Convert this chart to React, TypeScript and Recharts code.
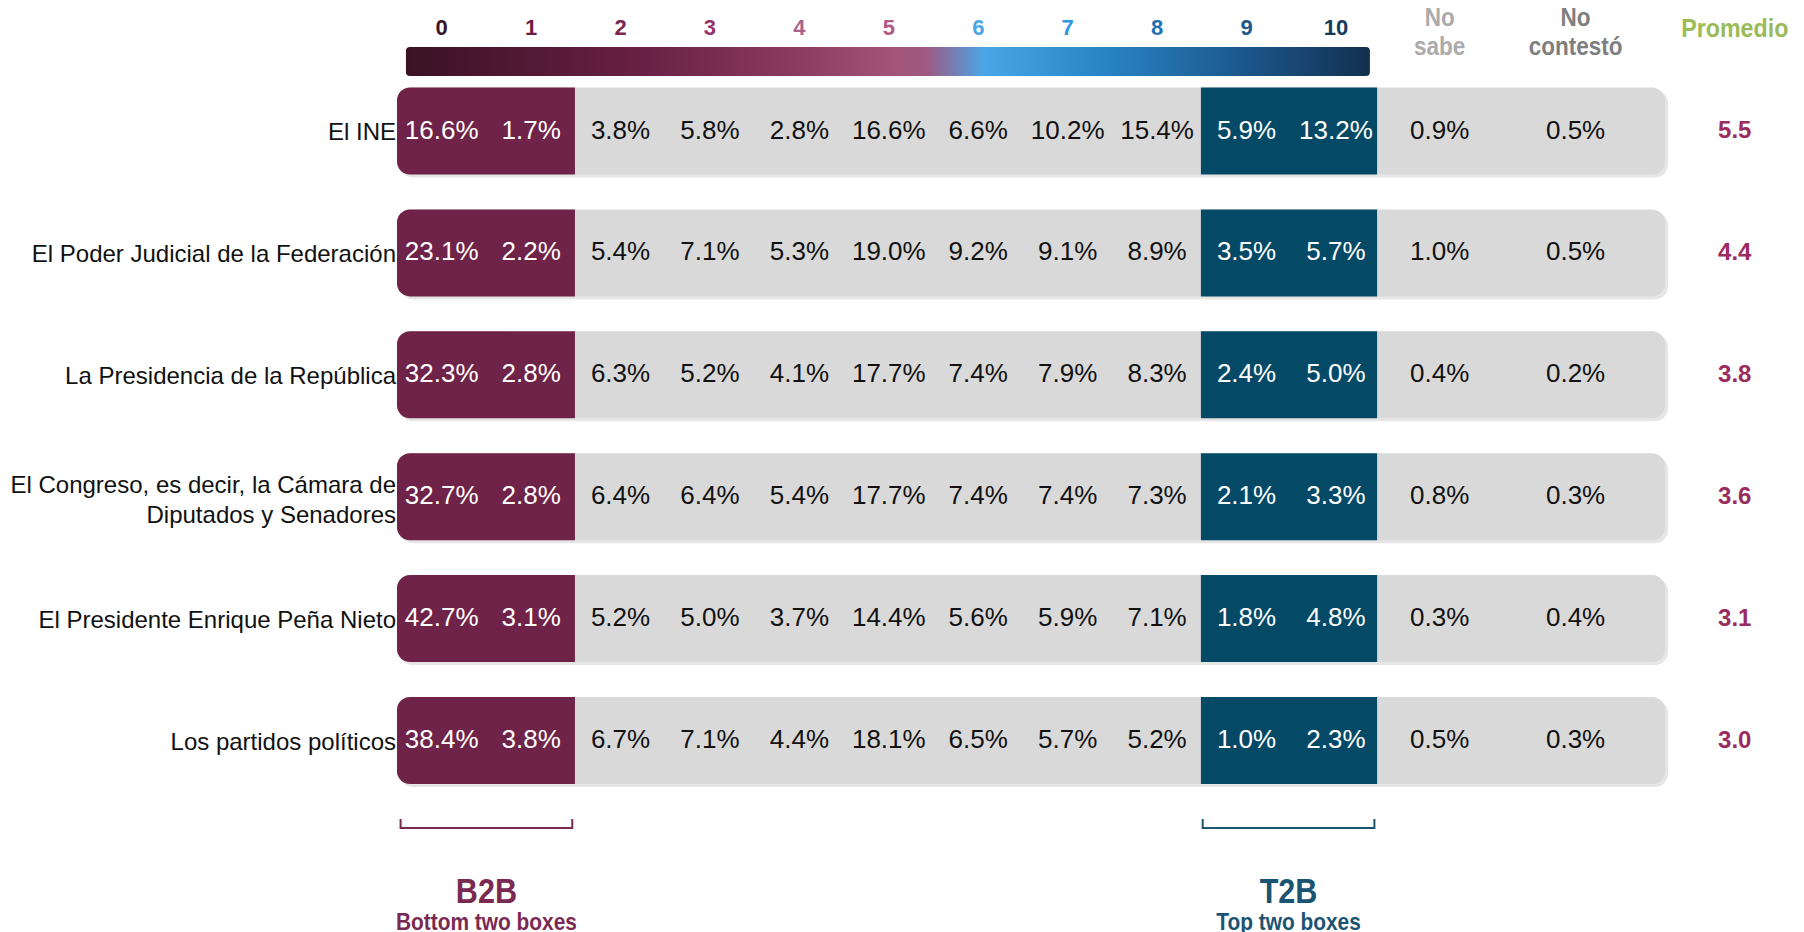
import React from 'react';
import { BarChart, Bar, XAxis, YAxis, LabelList } from 'recharts';

// rows (institutions)
const rows = [
  'El INE',
  'El Poder Judicial de la Federación',
  'La Presidencia de la República',
  'El Congreso, es decir, la Cámara de\nDiputados y Senadores',
  'El Presidente Enrique Peña Nieto',
  'Los partidos políticos',
];

// answer columns
const columns = ['0', '1', '2', '3', '4', '5', '6', '7', '8', '9', '10', 'No sabe', 'No contestó'];

// % per column, one array per row
const ine = [16.6, 1.7, 3.8, 5.8, 2.8, 16.6, 6.6, 10.2, 15.4, 5.9, 13.2, 0.9, 0.5];
const poderJudicial = [23.1, 2.2, 5.4, 7.1, 5.3, 19.0, 9.2, 9.1, 8.9, 3.5, 5.7, 1.0, 0.5];
const presidencia = [32.3, 2.8, 6.3, 5.2, 4.1, 17.7, 7.4, 7.9, 8.3, 2.4, 5.0, 0.4, 0.2];
const congreso = [32.7, 2.8, 6.4, 6.4, 5.4, 17.7, 7.4, 7.4, 7.3, 2.1, 3.3, 0.8, 0.3];
const penaNieto = [42.7, 3.1, 5.2, 5.0, 3.7, 14.4, 5.6, 5.9, 7.1, 1.8, 4.8, 0.3, 0.4];
const partidos = [38.4, 3.8, 6.7, 7.1, 4.4, 18.1, 6.5, 5.7, 5.2, 1.0, 2.3, 0.5, 0.3];

const promedio = [5.5, 4.4, 3.8, 3.6, 3.1, 3.0];

const groups = [
  { code: 'B2B', desc: 'Bottom two boxes' },
  { code: 'T2B', desc: 'Top two boxes' },
];

const valuesByRow = [ine, poderJudicial, presidencia, congreso, penaNieto, partidos];
const data = rows.map((name, r) => ({ name, vals: valuesByRow[r], avg: promedio[r] }));

// layout
const W = 1788;
const H = 924;
const Y_W = 389;
const TOP_H = 62.5;
const BAND = 121.9;
const PLOT_BOTTOM = TOP_H + BAND * rows.length;
const BOTTOM_H = H - PLOT_BOTTOM;
const PLOT_W = W - Y_W - 4;
const X_MIN = -0.5;
const X_MAX = 15.1;
const UNIT = PLOT_W / (X_MAX - X_MIN);
const xPx = (v: number) => Y_W + ((v - X_MIN) / (X_MAX - X_MIN)) * PLOT_W;

const colPos = [0, 1, 2, 3, 4, 5, 6, 7, 8, 9, 10, 11.16, 12.68];
const avgPos = 14.46;
const greyRange = [-0.5, 13.68];
const b2bRange = [-0.5, 1.49];
const t2bRange = [8.49, 10.46];
const groupPos = [0.5, 9.47];

const FONT = "'Liberation Sans', Arial, Helvetica, sans-serif";
const B2B_COLOR = '#6f2348';
const T2B_COLOR = '#044a67';
const headerColors = [
  '#3d1427', '#6a1e44', '#7d2551', '#94346a', '#a9628e', '#b05b88',
  '#4ba6e8', '#2e96de', '#1e72b4', '#1c568a', '#153a5c', '#ababab', '#7f7f7f',
];
const groupColors = ['#7a2a52', '#1b5472'];

const GreyShape = (p: any) => (
  <g>
    <rect x={p.x + 3} y={p.y + 3} width={p.width} height={p.height} rx={13} fill="#e6e6e6" />
    <rect x={p.x} y={p.y} width={p.width} height={p.height} rx={13} fill="#d9d9d9" />
  </g>
);

const RowTick = ({ x, y, payload }: any) => {
  const lines = String(payload.value).split('\n');
  const offs = lines.length === 1 ? [0] : [-13, 17];
  return (
    <text textAnchor="end" fontSize={24} fontFamily={FONT} fill="#111">
      {lines.map((l, i) => (
        <tspan key={i} x={x - 1} y={y + offs[i] + 8.6}>
          {l}
        </tspan>
      ))}
    </text>
  );
};

// condensed bold text, centred on cx
const Narrow = ({ cx, base, size, sx, fill, children }: any) => (
  <text
    transform={`translate(${cx},${base}) scale(${sx},1)`}
    textAnchor="middle"
    fontSize={size}
    fontWeight="bold"
    fontFamily={FONT}
    fill={fill}
  >
    {children}
  </text>
);

const HeaderTick = ({ x, y, index }: any) => {
  const top = y - TOP_H;
  if (index === columns.length) {
    return <Narrow cx={x} base={top + 29} size={25} sx={0.93} fill="#9bbb59">Promedio</Narrow>;
  }
  const label = columns[index];
  const parts = label.split(' ');
  if (parts.length > 1) {
    return (
      <g>
        <Narrow cx={x} base={top + 18} size={25} sx={0.9} fill={headerColors[index]}>{parts[0]}</Narrow>
        <Narrow cx={x} base={top + 47} size={25} sx={0.9} fill={headerColors[index]}>{parts.slice(1).join(' ')}</Narrow>
      </g>
    );
  }
  return (
    <text x={x} y={top + 27} textAnchor="middle" fontSize={22} fontWeight="bold" fontFamily={FONT} fill={headerColors[index]}>
      {label}
    </text>
  );
};

const GroupTick = ({ x, y, index }: any) => {
  const g = groups[index];
  const c = groupColors[index];
  const half = UNIT * 0.96;
  return (
    <g>
      <path d={`M${x - half},${y + 17} V${y + 26} H${x + half} V${y + 26 - 9}`} stroke={c} strokeWidth={2} fill="none" />
      <Narrow cx={x} base={y + 101} size={36} sx={0.85} fill={c}>{g.code}</Narrow>
      <Narrow cx={x} base={y + 128} size={24} sx={0.87} fill={c}>{g.desc}</Narrow>
    </g>
  );
};

const pctLabel = (i: number) => (p: any) => {
  const white = i < 2 || i === 9 || i === 10;
  return (
    <text
      x={p.x + p.width / 2}
      y={p.y + p.height / 2 + 7.5}
      textAnchor="middle"
      fontSize={26}
      fontFamily={FONT}
      fill={white ? '#ffffff' : '#111111'}
    >
      {Number(p.value).toFixed(1)}%
    </text>
  );
};

const avgLabel = (p: any) => (
  <text
    x={p.x + p.width / 2}
    y={p.y + p.height / 2 + 7}
    textAnchor="middle"
    fontSize={24}
    fontWeight="bold"
    fontFamily={FONT}
    fill="#9b2c60"
  >
    {Number(p.value).toFixed(1)}
  </text>
);

const ScaleBar = () => {
  const x1 = xPx(-0.4);
  const x2 = xPx(10.38);
  return (
    <svg width={W} height={80} style={{ position: 'absolute', left: 0, top: 0, pointerEvents: 'none' }}>
      <defs>
        <linearGradient id="scaleGrad" x1="0" y1="0" x2="1" y2="0">
          <stop offset="0" stopColor="#3b1224" />
          <stop offset="0.25" stopColor="#6a2046" />
          <stop offset="0.4" stopColor="#8a3a60" />
          <stop offset="0.51" stopColor="#a3557a" />
          <stop offset="0.54" stopColor="#9e5a82" />
          <stop offset="0.6" stopColor="#4ba6e8" />
          <stop offset="0.72" stopColor="#2a85c6" />
          <stop offset="0.86" stopColor="#1c5a90" />
          <stop offset="1" stopColor="#12304f" />
        </linearGradient>
      </defs>
      <rect x={x1} y={39} width={x2 - x1} height={29} rx={4} fill="url(#scaleGrad)" />
    </svg>
  );
};

export default function App() {
  return (
    <div style={{ position: 'relative', width: W, height: H, background: '#fff' }}>
      <style>{`body{overflow:hidden}.recharts-surface{overflow:visible}`}</style>
      <BarChart
        width={W}
        height={H}
        data={data}
        layout="vertical"
        margin={{ top: 0, right: 4, bottom: 0, left: 0 }}
        barSize={87}
        barGap={-87}
      >
        <XAxis
          xAxisId="top"
          orientation="top"
          type="number"
          domain={[X_MIN, X_MAX]}
          ticks={[...colPos, avgPos]}
          interval={0}
          height={TOP_H}
          axisLine={false}
          tickLine={false}
          tickSize={0}
          tickMargin={0}
          allowDataOverflow
          tick={<HeaderTick />}
        />
        <XAxis
          xAxisId="bottom"
          orientation="bottom"
          type="number"
          domain={[X_MIN, X_MAX]}
          ticks={groupPos}
          interval={0}
          height={BOTTOM_H}
          axisLine={false}
          tickLine={false}
          tickSize={0}
          tickMargin={0}
          allowDataOverflow
          tick={<GroupTick />}
        />
        <YAxis
          type="category"
          dataKey="name"
          width={Y_W}
          axisLine={false}
          tickLine={false}
          tickSize={0}
          tickMargin={0}
          interval={0}
          tick={<RowTick />}
        />
        <Bar xAxisId="top" dataKey={() => greyRange} shape={GreyShape} isAnimationActive={false} />
        <Bar xAxisId="top" dataKey={() => b2bRange} fill={B2B_COLOR} radius={[13, 0, 0, 13]} isAnimationActive={false} />
        <Bar xAxisId="top" dataKey={() => t2bRange} fill={T2B_COLOR} isAnimationActive={false} />
        {columns.map((c, i) => (
          <Bar
            key={c}
            xAxisId="top"
            dataKey={() => [colPos[i] - 0.45, colPos[i] + 0.45]}
            fill="transparent"
            isAnimationActive={false}
          >
            <LabelList dataKey={(d: any) => d.vals[i]} content={pctLabel(i)} />
          </Bar>
        ))}
        <Bar xAxisId="top" dataKey={() => [avgPos - 0.3, avgPos + 0.3]} fill="transparent" isAnimationActive={false}>
          <LabelList dataKey="avg" content={avgLabel} />
        </Bar>
      </BarChart>
      <ScaleBar />
    </div>
  );
}
